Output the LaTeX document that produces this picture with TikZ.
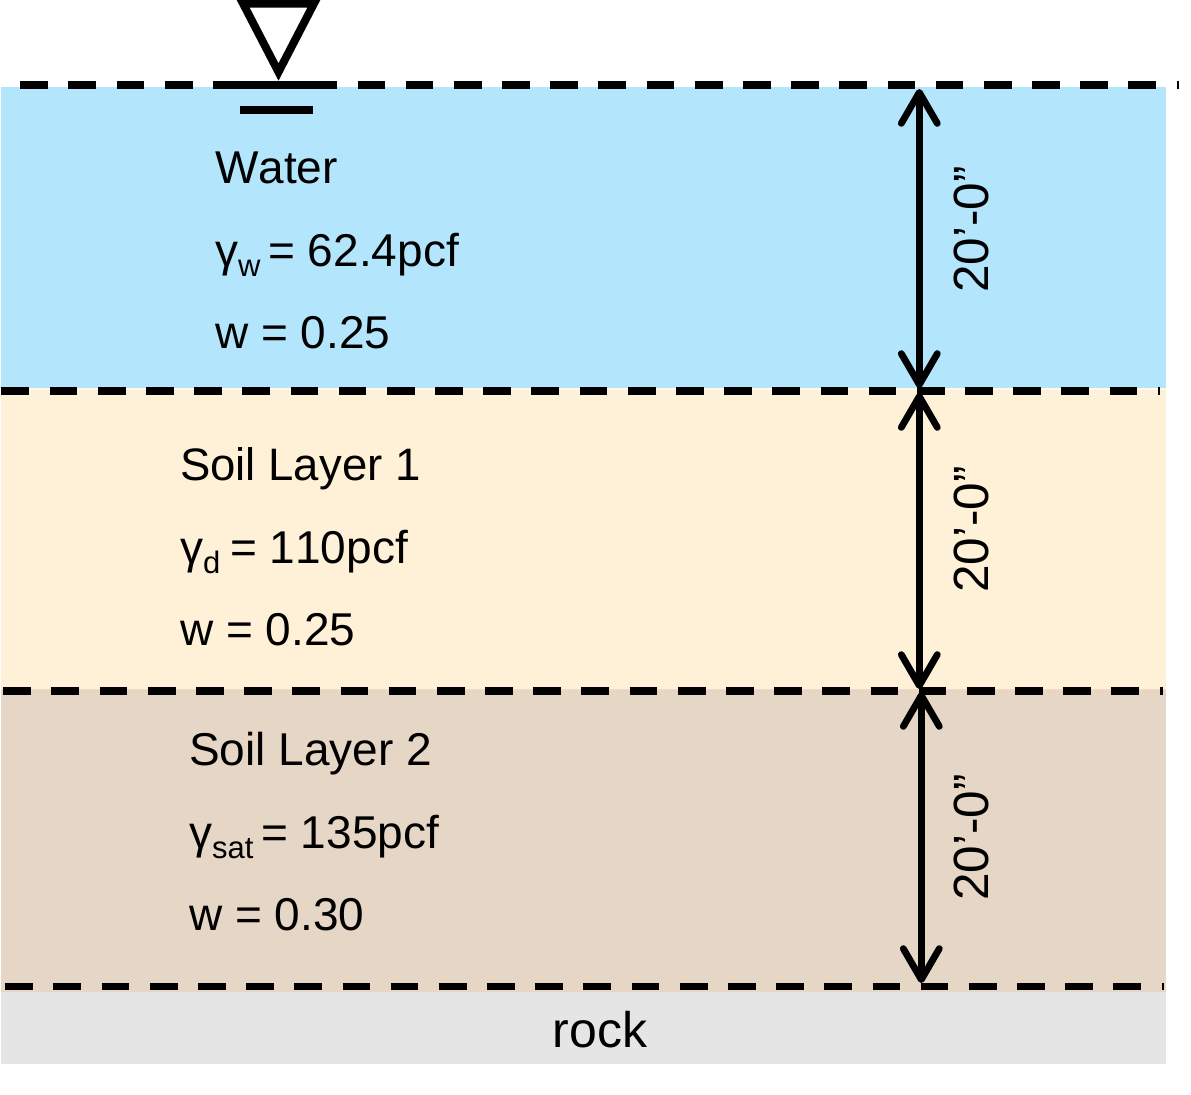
\documentclass[tikz,border=0pt]{standalone}
\usepackage{fontspec}
\setmainfont{Liberation Sans}
\usetikzlibrary{arrows.meta}
\definecolor{waterc}{HTML}{B3E6FC}
\definecolor{soilonec}{HTML}{FFF1D8}
\definecolor{soiltwoc}{HTML}{E6D6C5}
\definecolor{rockc}{HTML}{E5E5E5}
\definecolor{seamc}{HTML}{F0DDBF}
\definecolor{seamtop}{HTML}{FFFAF0}
\newcommand{\gsub}[1]{\raisebox{-10bp}{\fontsize{31bp}{34bp}\selectfont #1}\hspace{-3bp}}
\tikzset{
  layer/.style={anchor=north west,inner sep=0pt,outer sep=0pt,minimum width=1165bp,draw=none},
  lbl/.style={anchor=base west,inner sep=0pt,font=\fontsize{46bp}{50bp}\selectfont},
  title/.style={anchor=base west,inner sep=0pt,font=\fontsize{45.5bp}{50bp}\selectfont},
  dimlbl/.style={anchor=base west,inner sep=0pt,rotate=90,font=\fontsize{49.5bp}{52bp}\selectfont},
  level/.style={line width=7.5bp,dash pattern=on 27.7bp off 20.48bp},
  solidbar/.style={line width=7.5bp},
  dimarrow/.style={line width=6.8bp,{Straight Barb[length=31bp,width=36bp,round,line width=6.8bp]}-{Straight Barb[length=31bp,width=36bp,round,line width=6.8bp]}}
}
\begin{document}
\begin{tikzpicture}[x=1bp,y=-1bp]
\useasboundingbox (0,0) rectangle (1191,1095);
% layers
\node[layer,fill=waterc,minimum height=302bp] (water) at (1,86.5) {};
\node[layer,fill=soilonec,minimum height=300bp] (soilone) at (1,389) {};
\node[layer,fill=soiltwoc,minimum height=302bp] (soiltwo) at (1,689.5) {};
\node[layer,fill=rockc,minimum height=72bp] (rock) at (1,991.5) {};
\draw[seamtop,line width=1.5bp] (soilone.north west) -- (soilone.north east);
\draw[seamc,line width=1.5bp] (soiltwo.north west) -- (soiltwo.north east);
% level lines
\coordinate (a0) at (20.3,85);   \coordinate (a1) at (1179,85);
\coordinate (b0) at (1.5,391);   \coordinate (b1) at (1160.3,391);
\coordinate (c0) at (3.3,691);   \coordinate (c1) at (1162.6,691);
\coordinate (d0) at (5.3,986.5); \coordinate (d1) at (1164,986.5);
\draw[level] (a0) -- (a1);
\draw[level] (b0) -- (b1);
\draw[level] (c0) -- (c1);
\draw[level] (d0) -- (d1);
% water table symbol
\coordinate (s0) at (213,85); \coordinate (s1) at (337,85);
\coordinate (t0) at (240,110); \coordinate (t1) at (313,110);
\draw[solidbar] (s0) -- (s1);
\draw[solidbar] (t0) -- (t1);
\coordinate (v0) at (243,3.5); \coordinate (v1) at (314,3.5); \coordinate (v2) at (278.5,72);
\draw[line width=8bp,miter limit=10] (v0) -- (v1) -- (v2) -- cycle;
% dimension arrows
\coordinate (p0) at (919.3,89);  \coordinate (p1) at (919.3,388);
\coordinate (q0) at (919.3,393); \coordinate (q1) at (919.3,689);
\coordinate (r0) at (921.3,692); \coordinate (r1) at (921.3,983);
\draw[dimarrow] (p0) -- (p1);
\draw[dimarrow] (q0) -- (q1);
\draw[dimarrow] (r0) -- (r1);
\node[dimlbl] (dimw) at (988,293) {20’-0”};
\node[dimlbl] (dima) at (988,593) {20’-0”};
\node[dimlbl] (dimb) at (988,901) {20’-0”};
% texts
\node[lbl] (wt) at (215,183) {\addfontfeature{Kerning=Off}Water};
\node[lbl] (wg) at (215,266) {γ\gsub{w}\hspace{-2bp} = 62.4pcf};
\node[lbl] (ww) at (215,348) {w = 0.25};
\node[title] (at) at (180,480) {Soil Layer 1};
\node[lbl] (ag) at (180,563) {γ\gsub{d} {\addfontfeature{Kerning=Off}= 110pcf}};
\node[lbl] (aw) at (180,645) {w = 0.25};
\node[lbl] (bt) at (189,765) {Soil Layer 2};
\node[lbl] (bg) at (189,848) {γ\gsub{sat}\hspace{-2bp} = 135pcf};
\node[lbl] (bw) at (189,930) {w = 0.30};
\node[anchor=base,inner sep=0pt,font=\fontsize{50bp}{54bp}\selectfont] (rt) at (600,1047) {rock};
\end{tikzpicture}
\end{document}
